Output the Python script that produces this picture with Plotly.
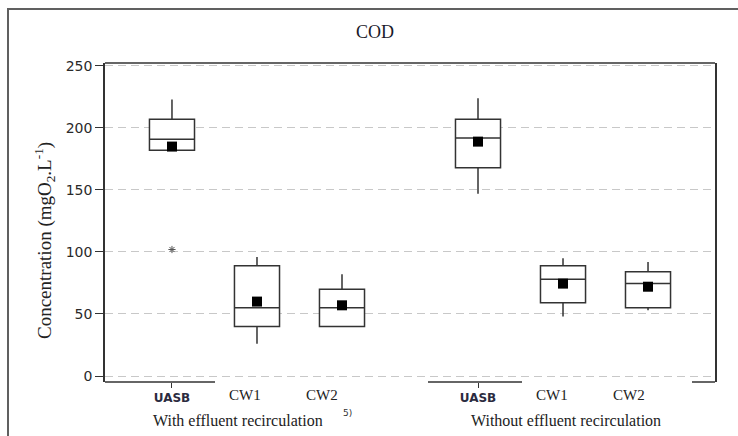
import plotly.graph_objects as go

# ---- data ----
categories = ["UASB", "CW1", "CW2"]
groups = ["With effluent recirculation", "Without effluent recirculation"]

q1_vals     = [182, 40, 40, 168, 59, 55]
median_vals = [191, 55, 55, 192, 78, 74.5]
q3_vals     = [207, 89, 70, 207, 89, 84]
lower_vals  = [182, 26, 40, 147, 48, 53]
upper_vals  = [223, 96, 82, 224, 95, 92]
mean_vals   = [185, 60, 57, 189, 74.5, 72]

outlier_box = [0]          # index of box with an outlier
outlier_vals = [102]

y_ticks = [0, 50, 100, 150, 200, 250]

# ---- layout helpers ----
group_gap = 1.6
positions = []
for g in range(len(groups)):
    for c in range(len(categories)):
        positions.append(1 + c + g * (len(categories) - 1 + group_gap))

L, R, T, B = 105, 715, 63, 382
PW, PH = R - L, B - T
def px(x):
    return (x - L) / PW
def py(y):
    return (B - y) / PH

fig = go.Figure()

fig.add_trace(go.Box(
    x=positions, q1=q1_vals, median=median_vals, q3=q3_vals,
    lowerfence=lower_vals, upperfence=upper_vals,
    width=0.53, whiskerwidth=0, boxpoints=False,
    fillcolor="white", line=dict(color="#333333", width=1.5),
    showlegend=False, hoverinfo="skip"))

fig.add_trace(go.Scatter(
    x=positions, y=mean_vals, mode="markers",
    marker=dict(symbol="square", size=10, color="black"),
    showlegend=False, hoverinfo="skip"))

fig.add_trace(go.Scatter(
    x=[positions[i] for i in outlier_box], y=outlier_vals, mode="markers",
    marker=dict(symbol="asterisk-open", size=6, color="#555555",
                line=dict(width=1, color="#555555")),
    showlegend=False, hoverinfo="skip"))

uasb_pos = [positions[g * len(categories)] for g in range(len(groups))]

fig.update_layout(
    width=738, height=436,
    margin=dict(l=L, r=738 - R, t=T, b=436 - B),
    paper_bgcolor="white", plot_bgcolor="white",
    title=dict(text="COD", x=375 / 738, y=1 - 32 / 436, xanchor="center", yanchor="middle",
               font=dict(family="Liberation Serif", size=18, color="#1a1a2a")),
    xaxis=dict(range=[0.212, 7.388], showgrid=False, zeroline=False, showline=False,
               tickvals=uasb_pos,
               ticktext=["<b>" + categories[0] + "</b>"] * len(groups),
               ticks="outside", ticklen=5, tickcolor="#333333", tickwidth=1.2,
               tickfont=dict(family="DejaVu Sans", size=12, color="#2b2b40")),
    yaxis=dict(range=[-4.84, 252.4], tickvals=y_ticks, showgrid=True,
               gridcolor="#c8c8c8", griddash="8px,5px", gridwidth=1,
               zeroline=False, showline=True, mirror=True, linecolor="#333333",
               linewidth=1.5, ticks="outside", ticklen=8, tickcolor="#333333",
               tickfont=dict(family="DejaVu Sans", size=14, color="#2a2a2a")),
)

# category labels CW1/CW2 (serif), slightly left of their boxes as in the reference
cw_label_px = [[245, 322], [552, 629]]
for g in range(len(groups)):
    for c in range(1, len(categories)):
        fig.add_annotation(x=px(cw_label_px[g][c - 1]), y=py(395),
                           xref="paper", yref="paper", text=categories[c],
                           showarrow=False, xanchor="center", yanchor="middle",
                           font=dict(family="Liberation Serif", size=15, color="#222222"))

# group labels
group_centers_px = [238, 566]
for g, name in enumerate(groups):
    fig.add_annotation(x=px(group_centers_px[g]), y=py(420),
                       xref="paper", yref="paper", text=name, showarrow=False,
                       xanchor="center", yanchor="middle",
                       font=dict(family="Liberation Serif", size=16, color="#222222"))

fig.add_annotation(x=px(347), y=py(413), xref="paper", yref="paper",
                   text="5)", showarrow=False, xanchor="center", yanchor="middle",
                   font=dict(family="DejaVu Sans", size=9, color="#333333"))

# y-axis title
fig.add_annotation(x=px(44), y=py(241), xref="paper", yref="paper",
                   text="Concentration (mgO<sub>2</sub>.L<sup>-1</sup>)", textangle=-90,
                   showarrow=False, xanchor="center", yanchor="middle",
                   font=dict(family="Liberation Serif", size=19, color="#222222"))

# plot frame: top + broken bottom
fig.add_shape(type="line", xref="paper", yref="paper", x0=0, x1=1, y0=1, y1=1,
              line=dict(color="#333333", width=1.5))
for a, b in [(105, 215), (428, 522), (692, 715)]:
    fig.add_shape(type="line", xref="paper", yref="paper",
                  x0=px(a), x1=px(b), y0=0, y1=0,
                  line=dict(color="#333333", width=1.5))

# outer figure frame (left + top)
fx, fy = px(8), py(9)
fig.add_shape(type="path", xref="paper", yref="paper",
              path=f"M {fx} {py(440)} L {fx} {fy} L {px(745)} {fy}",
              line=dict(color="#606060", width=2))

fig.write_html("out.html")
